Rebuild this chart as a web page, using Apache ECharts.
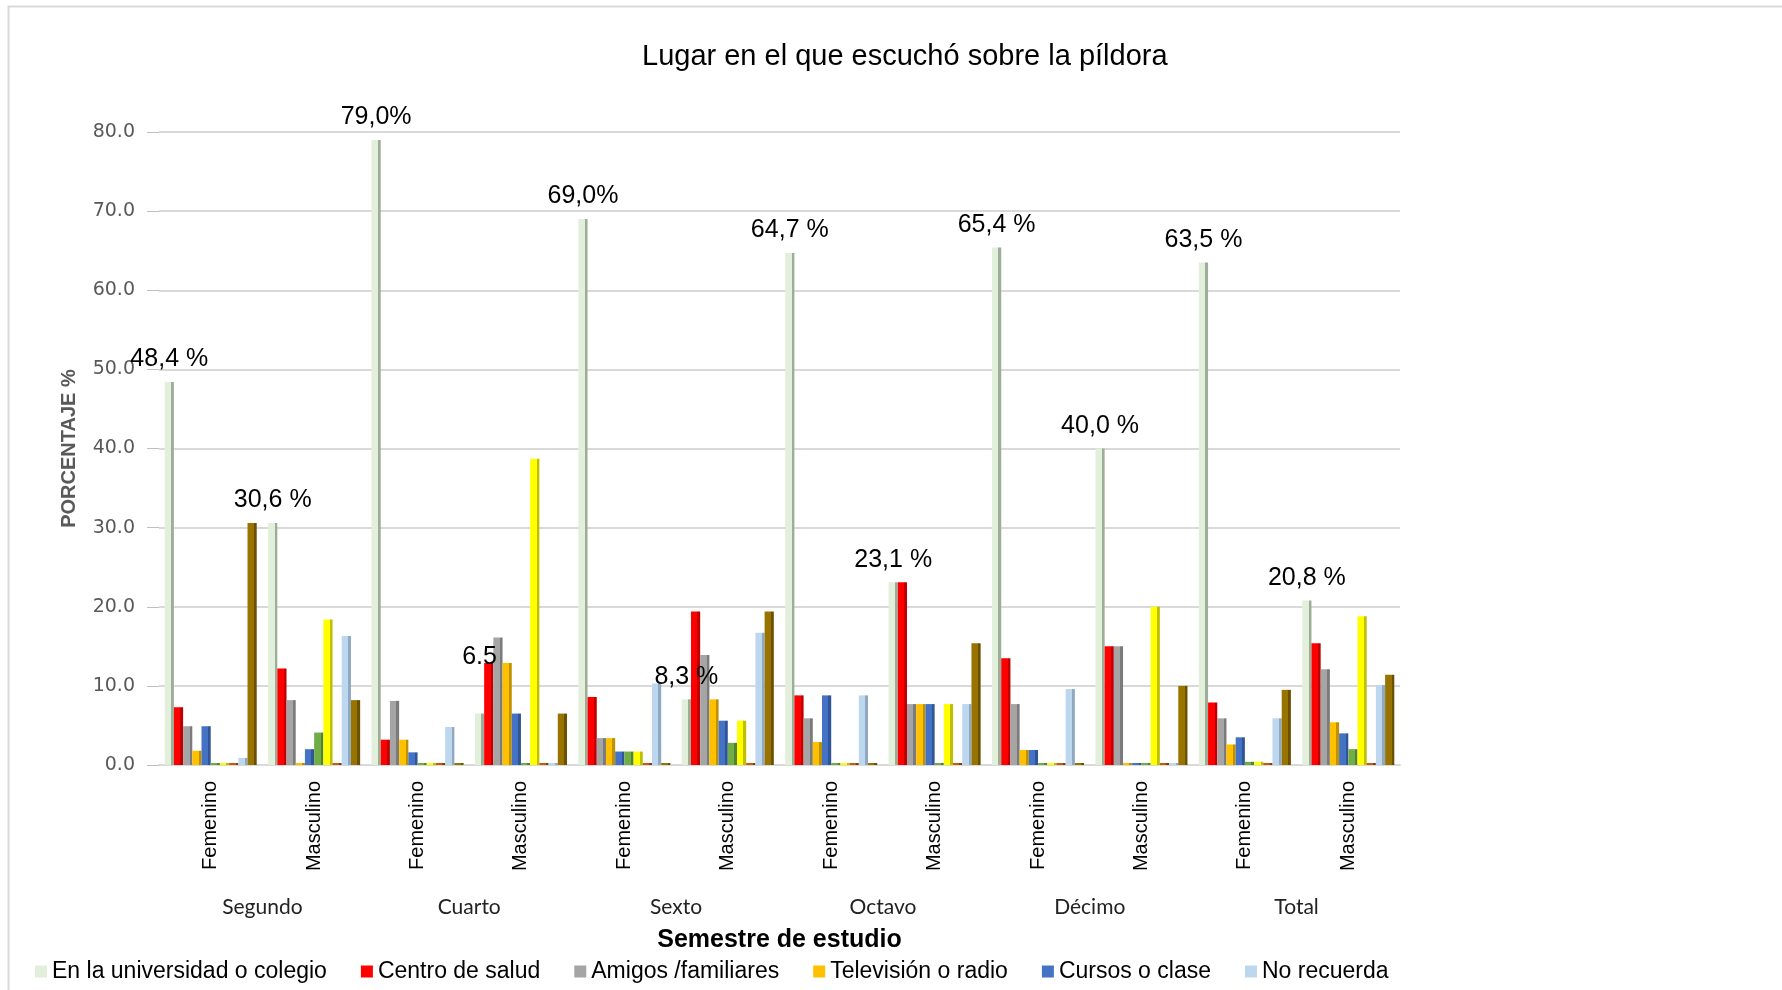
<!DOCTYPE html>
<html>
<head>
<meta charset="utf-8">
<script src="https://cdn.jsdelivr.net/npm/echarts@6/dist/echarts.min.js"></script>
<style>
html,body{margin:0;padding:0;background:#fff;}
#chart{width:1782px;height:990px;}
</style>
</head>
<body>
<div id="chart"></div>
<script>
// ---- Data ----
const categories = ["Femenino","Masculino","Femenino","Masculino","Femenino","Masculino","Femenino","Masculino","Femenino","Masculino","Femenino","Masculino"];
const groups = ["Segundo","Cuarto","Sexto","Octavo","Décimo","Total"];
const yTicks = [0,10,20,30,40,50,60,70,80];

const universidad = [48.4, 30.6, 79.0, 6.5, 69.0, 8.3, 64.7, 23.1, 65.4, 40.0, 63.5, 20.8];
const centroSalud = [7.3, 12.2, 3.2, 12.9, 8.6, 19.4, 8.8, 23.1, 13.5, 15.0, 7.9, 15.4];
const amigos      = [4.9, 8.2, 8.1, 16.1, 3.4, 13.9, 5.9, 7.7, 7.7, 15.0, 5.9, 12.1];
const television  = [1.8, 0, 3.2, 12.9, 3.4, 8.3, 2.9, 7.7, 1.9, 0, 2.6, 5.4];
const cursos      = [4.9, 2.0, 1.6, 6.5, 1.7, 5.6, 8.8, 7.7, 1.9, 0, 3.5, 4.0];
const serie6      = [0, 4.1, 0, 0, 1.7, 2.8, 0, 0, 0, 0, 0.4, 2.0];
const serie7      = [0, 18.4, 0, 38.7, 1.7, 5.6, 0, 7.7, 0, 20.0, 0.4, 18.8];
const serie8      = [0, 0, 0, 0, 0, 0, 0, 0, 0, 0, 0, 0];
const noRecuerda  = [0.9, 16.3, 4.8, 0, 10.3, 16.7, 8.8, 7.7, 9.6, 0, 5.9, 10.1];
const serie10     = [30.6, 8.2, 0, 6.5, 0, 19.4, 0, 15.4, 0, 10.0, 9.5, 11.4];

const universidadLabels = ["48,4 %","30,6 %","79,0%","6.5","69,0%","8,3 %","64,7 %","23,1 %","65,4 %","40,0 %","63,5 %","20,8 %"];

const seriesDefs = [
  {name:"En la universidad o colegio", data: universidad, color:"#E2EFDA", side:"#9DAE98"},
  {name:"Centro de salud", data: centroSalud, color:"#FF0000", side:"#C00000"},
  {name:"Amigos /familiares", data: amigos, color:"#A5A5A5", side:"#7B7B7B"},
  {name:"Televisión o radio", data: television, color:"#FFC000", side:"#BF9000"},
  {name:"Cursos o clase", data: cursos, color:"#4472C4", side:"#2F5597"},
  {name:"Serie 6", data: serie6, color:"#70AD47", side:"#548235"},
  {name:"Serie 7", data: serie7, color:"#FFFF00", side:"#BFBF00"},
  {name:"Serie 8", data: serie8, color:"#C55A11", side:"#843C0C"},
  {name:"No recuerda", data: noRecuerda, color:"#BDD7EE", side:"#8EA9C1"},
  {name:"Serie 10", data: serie10, color:"#997300", side:"#6B5000"}
];
const legendNames = ["En la universidad o colegio","Centro de salud","Amigos /familiares","Televisión o radio","Cursos o clase","No recuerda"];

const font = "'Liberation Sans', Arial, sans-serif";

const series = seriesDefs.map((s, si) => {
  const grad = {type:'linear', x:0, y:0, x2:1, y2:0, colorStops:[
    {offset:0, color:s.color},{offset:0.7, color:s.color},
    {offset:0.7, color:s.side},{offset:1, color:s.side}]};
  const data = s.data.map((v, i) => {
    if (si === 0) {
      return {value:v, label:{show:true, formatter: universidadLabels[i],
        distance: universidadLabels[i] === "6.5" ? 44 : 10}};
    }
    return v;
  });
  return {
    name: s.name, type:'bar', xAxisIndex:0, yAxisIndex:0,
    barGap:'0%', barCategoryGap:'11%', barMinHeight: 2,
    itemStyle:{color: grad},
    label:{show:false, position:'top', color:'#000', fontSize:25, fontFamily:font},
    emphasis:{disabled:true},
    animation:false,
    data
  };
});

const chart = echarts.init(document.getElementById('chart'), null, {renderer:'canvas'});
chart.setOption({
  backgroundColor:'#fff',
  animation:false,
  title:{text:"Lugar en el que escuchó sobre la píldora", left:637, top:37,
    textStyle:{fontFamily:font, fontSize:29, fontWeight:'normal', color:'#000'}},
  legend:{
    left:30, top:955, itemWidth:12, itemHeight:12, itemGap:34, icon:'rect',
    textStyle:{fontFamily:font, fontSize:23, color:'#000'},
    data: legendNames.map(n => ({name:n, itemStyle:{color: seriesDefs.find(s=>s.name===n).color}}))
  },
  graphic:[{type:'rect', left:6, top:4, shape:{width:1800, height:1000},
    style:{fill:'none', stroke:'#D9D9D9', lineWidth:2}, silent:true, z:-1}],
  grid:{left:159, right:382, top:132, bottom:225},
  xAxis:[
    {type:'category', data:categories, position:'bottom',
     axisLine:{show:true, lineStyle:{color:'#D9D9D9', width:2}},
     axisTick:{show:false},
     axisLabel:{rotate:90, margin:16, fontFamily:font, fontSize:20, color:'#000'}},
    {type:'category', data:groups, position:'bottom',
     axisLine:{show:false}, axisTick:{show:false}, splitLine:{show:false},
     axisLabel:{margin:132, fontFamily:"Lato, 'Open Sans', sans-serif", fontSize:21, color:'#222'},
     name:"Semestre de estudio", nameLocation:'middle', nameGap:163,
     nameTextStyle:{fontFamily:font, fontSize:25, fontWeight:'bold', color:'#000'}}
  ],
  yAxis:{type:'value', min:yTicks[0], max:yTicks[yTicks.length-1], interval:10,
    axisLine:{show:false},
    axisTick:{show:true, length:12, lineStyle:{color:'#BFBFBF', width:1}},
    axisLabel:{margin:24, formatter: v => v.toFixed(1), fontFamily:"'DejaVu Sans', Verdana, sans-serif", fontSize:19, color:'#595959'},
    splitLine:{show:true, lineStyle:{color:'#D9D9D9', width:2}},
    name:"PORCENTAJE %", nameLocation:'middle', nameGap:80, nameRotate:90,
    nameTextStyle:{fontFamily:font, fontSize:20, fontWeight:'bold', color:'#595959'}},
  series
});
</script>
</body>
</html>
